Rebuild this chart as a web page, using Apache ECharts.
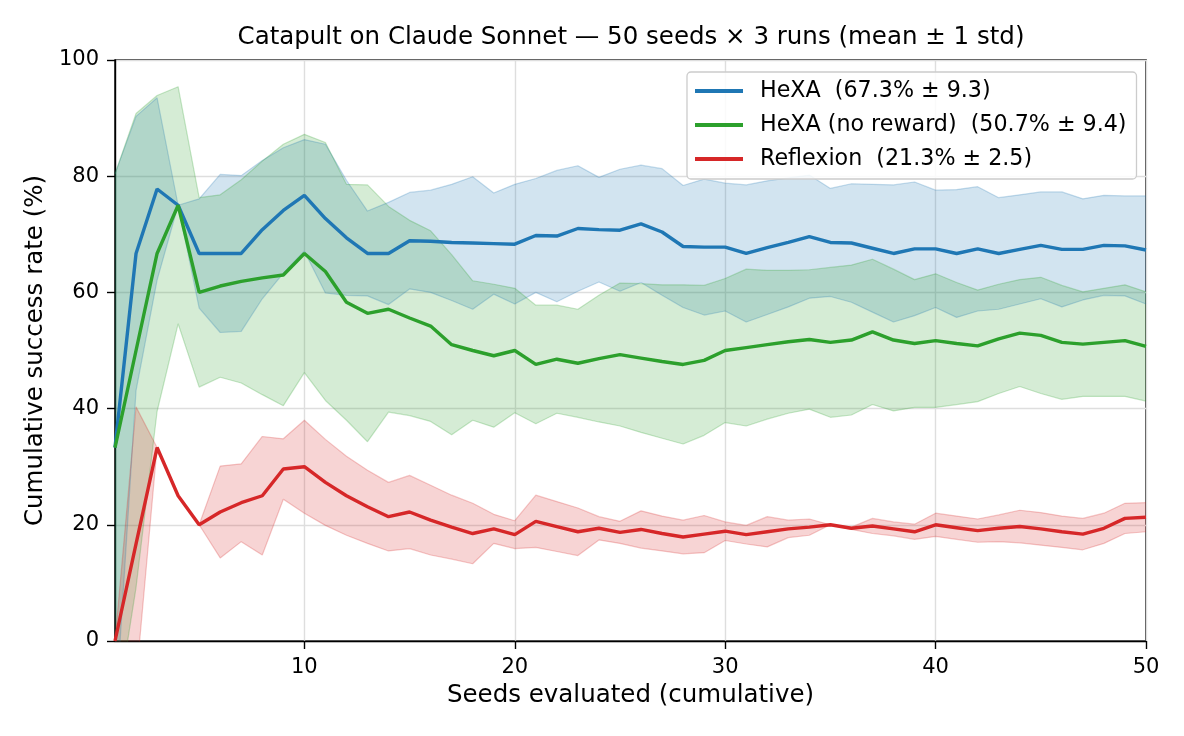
<!DOCTYPE html>
<html>
<head>
<meta charset="utf-8">
<script src="https://cdn.jsdelivr.net/npm/echarts@6/dist/echarts.min.js"></script>
<style>
html,body{margin:0;padding:0;background:#fff;}
#chart{width:1184px;height:736px;}
</style>
</head>
<body>
<div id="chart"></div>
<script>
var seeds = [1,2,3,4,5,6,7,8,9,10,11,12,13,14,15,16,17,18,19,20,21,22,23,24,25,
	26,27,28,29,30,31,32,33,34,35,36,37,38,39,40,41,42,43,44,45,46,47,48,49,50];
var xTicks = [10,20,30,40,50];

// HeXA
var hexaMean = [33.3,66.7,77.8,75.0,66.7,66.7,66.7,70.8,74.1,76.7,72.7,69.4,66.7,66.7,68.9,68.8,68.6,68.5,68.4,68.3,
	69.8,69.7,71.0,70.8,70.7,71.8,70.4,67.9,67.8,67.8,66.7,67.7,68.6,69.6,68.6,68.5,67.6,66.7,67.5,67.5,
	66.7,67.5,66.7,67.4,68.1,67.4,67.4,68.1,68.0,67.3];
var hexaStd = [47.1,23.6,15.7,0,9.4,13.6,13.4,11.9,10.8,9.6,12.8,9.9,7.3,8.8,8.3,8.8,10.0,11.4,8.7,10.3,
	9.8,11.3,10.8,9.0,10.5,10.1,10.9,10.5,11.7,11.0,11.8,11.5,11.1,10.6,9.3,10.2,11.0,11.8,11.5,10.1,
	11.0,10.7,9.6,9.4,9.2,9.9,8.7,8.6,8.6,9.3];

// HeXA (no reward)
var noRewardMean = [33.3,50.0,66.7,75.0,60.0,61.1,61.9,62.5,63.0,66.7,63.6,58.3,56.4,57.1,55.6,54.2,51.0,50.0,49.1,50.0,
	47.6,48.5,47.8,48.6,49.3,48.7,48.1,47.6,48.3,50.0,50.5,51.0,51.5,51.9,51.4,51.8,53.2,51.8,51.2,51.7,
	51.2,50.8,52.0,53.0,52.6,51.4,51.1,51.4,51.7,50.7];
var noRewardStd = [47.1,40.8,27.2,20.4,16.3,15.7,17.5,20.1,22.5,20.5,22.2,20.3,22.1,17.7,16.8,16.4,15.5,12.0,12.3,10.7,
	10.2,9.3,9.3,10.9,12.3,12.8,13.2,13.7,12.9,12.4,13.5,12.8,12.3,12.0,12.9,12.9,12.5,12.2,11.0,11.5,
	10.5,9.6,9.4,9.2,10.0,9.8,9.0,9.3,9.6,9.4];

// Reflexion
var reflexionMean = [0,16.7,33.3,25.0,20.0,22.2,23.8,25.0,29.6,30.0,27.3,25.0,23.1,21.4,22.2,20.8,19.6,18.5,19.3,18.3,
	20.6,19.7,18.8,19.4,18.7,19.2,18.5,17.9,18.4,18.9,18.3,18.8,19.3,19.6,20.0,19.4,19.8,19.3,18.8,20.0,
	19.5,19.0,19.4,19.7,19.3,18.8,18.4,19.4,21.1,21.3];
var reflexionStd = [0,23.6,0,0,0,7.9,6.7,10.2,5.2,8.0,7.4,6.8,6.3,5.9,6.3,6.0,5.5,5.2,2.5,2.4,
	4.5,4.3,4.1,2.0,1.9,3.2,3.0,2.9,3.2,1.6,1.6,2.6,1.5,1.4,0,0.2,1.3,1.2,1.3,2.0,
	2.0,2.0,2.3,2.8,2.8,2.7,2.7,2.6,2.6,2.5];

var names = ['HeXA  (67.3% ± 9.3)', 'HeXA (no reward)  (50.7% ± 9.4)', 'Reflexion  (21.3% ± 2.5)'];
var colors = ['#1f77b4', '#2ca02c', '#d62728'];
var means = [hexaMean, noRewardMean, reflexionMean];
var stds = [hexaStd, noRewardStd, reflexionStd];

var FONT = 'DejaVu Sans';

// only every 10th seed gets a tick / label / grid line
function onTick(index, value){
	return xTicks.indexOf(+value) >= 0;
}

function bandSeries(idx){
	var m = means[idx], s = stds[idx], c = colors[idx];
	var lo = m.map(function(v, i){ return +(v - s[i]).toFixed(2); });
	var width = s.map(function(v){ return +(2 * v).toFixed(2); });
	return [{
		type: 'line', name: 'band' + idx + 'lo', stack: 'band' + idx, stackStrategy: 'all',
		data: lo, symbol: 'none', silent: true, z: 1,
		lineStyle: {color: c, width: 1.2, opacity: 0.25}
	}, {
		type: 'line', name: 'band' + idx + 'hi', stack: 'band' + idx, stackStrategy: 'all',
		data: width, symbol: 'none', silent: true, z: 1,
		lineStyle: {color: c, width: 1.2, opacity: 0.25},
		areaStyle: {color: c, opacity: 0.2}
	}];
}

function meanSeries(idx){
	return {
		type: 'line', name: names[idx], z: 3,
		data: means[idx],
		symbol: 'none', showSymbol: false,
		itemStyle: {color: colors[idx]},
		lineStyle: {color: colors[idx], width: 3.4}
	};
}

var series = [];
for (var i = 0; i < 3; i++) { series = series.concat(bandSeries(i)); }
for (var i = 0; i < 3; i++) { series.push(meanSeries(i)); }

var chart = echarts.init(document.getElementById('chart'), null, {renderer: 'canvas'});
chart.setOption({
	animation: false,
	backgroundColor: '#fff',
	textStyle: {fontFamily: FONT},
	title: {
		text: 'Catapult on Claude Sonnet — 50 seeds × 3 runs (mean ± 1 std)',
		left: 631, top: 25, textAlign: 'center', padding: 0,
		textStyle: {fontFamily: FONT, fontSize: 24.5, fontWeight: 'normal', color: '#000'}
	},
	grid: {
		left: 115, right: 38, top: 60, bottom: 95,
		show: true, borderColor: '#000', borderWidth: 1.4, backgroundColor: 'transparent'
	},
	legend: {
		data: names,
		orient: 'vertical',
		left: 687, top: 72,
		padding: [8, 10, 9, 8],
		itemWidth: 48, itemHeight: 4, itemGap: 12,
		icon: 'rect',
		backgroundColor: 'rgba(255,255,255,0.85)',
		borderColor: '#cccccc', borderWidth: 1.3, borderRadius: 4,
		selectedMode: false,
		textStyle: {fontFamily: FONT, fontSize: 22.2, color: '#000', padding: [0, 0, 0, 12]}
	},
	xAxis: {
		type: 'category', data: seeds, boundaryGap: false,
		name: 'Seeds evaluated (cumulative)',
		nameLocation: 'middle', nameGap: 42,
		nameTextStyle: {fontFamily: FONT, fontSize: 24.5, color: '#000'},
		axisLine: {show: true, onZero: false, lineStyle: {color: '#000', width: 1.4}},
		axisTick: {show: true, inside: false, length: 8, interval: onTick, lineStyle: {color: '#000', width: 1.4}},
		axisLabel: {interval: onTick, margin: 16, fontFamily: FONT, fontSize: 21, color: '#000'},
		splitLine: {show: true, interval: onTick, lineStyle: {color: '#dedede', width: 1.4}}
	},
	yAxis: {
		type: 'value', min: 0, max: 100, interval: 20,
		name: 'Cumulative success rate (%)',
		nameLocation: 'middle', nameGap: 66, nameRotate: 90,
		nameTextStyle: {fontFamily: FONT, fontSize: 24.5, color: '#000'},
		axisLine: {show: true, lineStyle: {color: '#000', width: 1.4}},
		axisTick: {show: true, inside: false, length: 8, lineStyle: {color: '#000', width: 1.4}},
		axisLabel: {margin: 16, fontFamily: FONT, fontSize: 21, color: '#000'},
		splitLine: {show: true, lineStyle: {color: '#dedede', width: 1.4}}
	},
	series: series
});
</script>
</body>
</html>
